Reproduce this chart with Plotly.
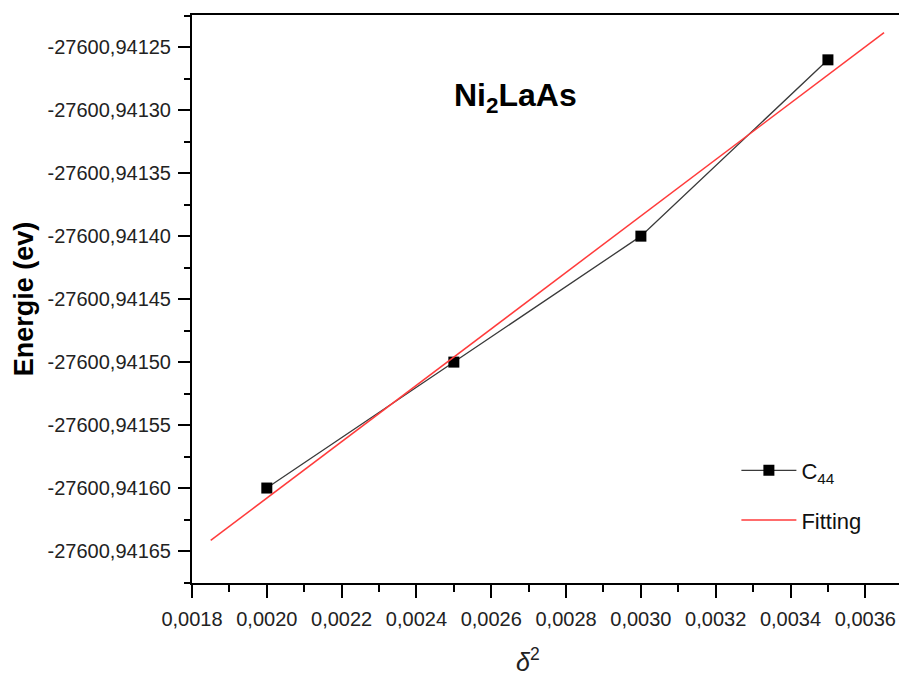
import numpy as np
import plotly.graph_objects as go

# Strain (delta^2) and total energy for the C44 deformation of Ni2LaAs
delta_sq = [0.0020, 0.0025, 0.0030, 0.0035]
energy = [-27600.94160, -27600.94150, -27600.94140, -27600.94126]

# Axis ticks
x_ticks = [0.0018, 0.0020, 0.0022, 0.0024, 0.0026, 0.0028, 0.0030, 0.0032, 0.0034, 0.0036]
y_ticks = [-27600.94125, -27600.94130, -27600.94135, -27600.94140, -27600.94145,
           -27600.94150, -27600.94155, -27600.94160, -27600.94165]
x_tick_labels = [f"{v:.4f}".replace(".", ",") for v in x_ticks]
y_tick_labels = [f"{v:.5f}".replace(".", ",") for v in y_ticks]

# Span of the fitted line
fit_span = [0.00185, 0.00365]

# Linear least-squares fit of E versus delta^2
slope, intercept = np.polyfit(delta_sq, energy, 1)
fit_x = np.array(fit_span)
fit_y = slope * fit_x + intercept

FONT = "Liberation Sans, Arial, sans-serif"

fig = go.Figure()
fig.add_trace(go.Scatter(
    x=delta_sq, y=energy, mode="lines+markers", name="C<sub>44</sub>",
    line=dict(color="#3a3a3a", width=1.3),
    marker=dict(symbol="square", size=11, color="black"),
    legendgroup="a",
))
fig.add_trace(go.Scatter(
    x=fit_x, y=fit_y, mode="lines", name="Fitting",
    line=dict(color="#ff3b3b", width=1.5),
    legendgroup="b",
))

fig.update_layout(
    width=899, height=678,
    margin=dict(l=192, r=0, t=15, b=95),
    plot_bgcolor="white", paper_bgcolor="white",
    font=dict(family=FONT, size=20, color="#222"),
    showlegend=True,
    legend=dict(
        x=0.77, y=0.235, xanchor="left", yanchor="top",
        bgcolor="rgba(0,0,0,0)", font=dict(size=22, color="#111"),
        tracegroupgap=18, itemwidth=55,
    ),
    xaxis=dict(
        range=[0.0018, 0.00369],
        tickmode="array", tickvals=x_ticks, ticktext=x_tick_labels,
        showgrid=False, zeroline=False,
        showline=True, linecolor="black", linewidth=2, mirror=True,
        ticks="outside", ticklen=13, tickwidth=2, tickcolor="black",
        ticklabelstandoff=4,
        minor=dict(tickmode="linear", tick0=0.0018, dtick=0.0001,
                   ticks="outside", ticklen=7, tickwidth=2, tickcolor="black"),
    ),
    yaxis=dict(
        range=[-27600.9416754, -27600.9412244],
        tickmode="array", tickvals=y_ticks, ticktext=y_tick_labels,
        showgrid=False, zeroline=False,
        showline=True, linecolor="black", linewidth=2, mirror=False,
        ticks="outside", ticklen=12, tickwidth=2, tickcolor="black",
        ticklabelstandoff=3,
        minor=dict(tickmode="linear", tick0=-27600.94125, dtick=0.000025,
                   ticks="outside", ticklen=6, tickwidth=2, tickcolor="black"),
        title=dict(text="<b>Energie (ev)</b>", font=dict(size=27, color="black"),
                   standoff=6),
    ),
)

# Compound label inside the plot
fig.add_annotation(
    x=0.457, y=0.894, xref="paper", yref="paper",
    text="<b>Ni<sub>2</sub>LaAs</b>", showarrow=False,
    font=dict(size=32, color="black"),
)
# x-axis title
fig.add_annotation(
    x=0.475, y=-0.135, xref="paper", yref="paper",
    text="<i>δ</i><sup>2</sup>", showarrow=False,
    font=dict(size=25, color="#222"), yanchor="middle",
)

fig.write_html("out.html")
